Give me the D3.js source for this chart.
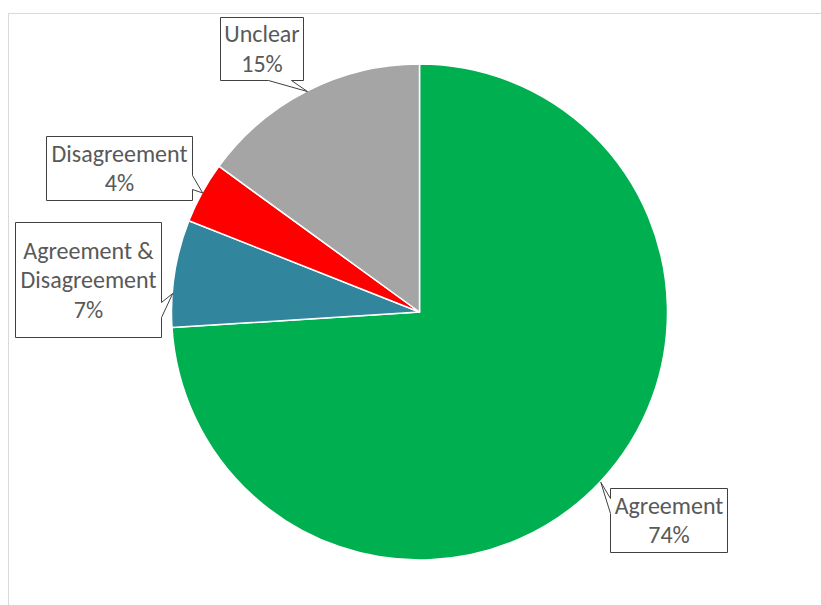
<!DOCTYPE html>
<html>
<head>
<meta charset="utf-8">
<script src="https://cdn.jsdelivr.net/npm/d3@7"></script>
<style>
  body { margin: 0; background: #fff; }
  svg { display: block; }
</style>
</head>
<body>
<div class="vis"></div>
<script>
// data, clockwise from 12 o'clock
var categories = ["Agreement", "Agreement & Disagreement", "Disagreement", "Unclear"];
var values     = [74, 7, 4, 15];
var colors     = ["#00B050", "#31859C", "#FF0000", "#A5A5A5"];
var labelLines = [["Agreement", "74%"], ["Agreement &", "Disagreement", "7%"], ["Disagreement", "4%"], ["Unclear", "15%"]];

// callout boxes (annotation layout): box, side of pointer, pointer base along that side, tip angle shift (deg)
var callouts = [
    { x: 610, y: 488, w: 117, h: 64,  side: "left",   b1: 498, b2: 513, shift: 0 },
    { x: 15,  y: 222, w: 146, h: 115, side: "right",  b1: 302, b2: 317, shift: -4.6 },
    { x: 46,  y: 136, w: 146, h: 64,  side: "right",  b1: 175, b2: 189, shift: 0 },
    { x: 220, y: 17,  w: 83,  h: 63,  side: "bottom", b1: 268, b2: 291, shift: 0 }
];

var width = 821, height = 605;
var cx = 419.5, cy = 312, radius = 248;

var svg = d3.select('div.vis')
            .append('svg')
            .attr('width', width)
            .attr('height', height);

// chart area border
svg.append('rect')
   .attr('x', 8.5).attr('y', 13.5)
   .attr('width', 840).attr('height', 640)
   .attr('fill', 'none')
   .attr('stroke', '#d9d9d9')
   .attr('stroke-width', 1);

var pie = d3.pie().sort(null).value(function(d) { return d; });
var arcs = pie(values);
var arc = d3.arc().innerRadius(0).outerRadius(radius);

var pieG = svg.append('g').attr('transform', 'translate(' + cx + ',' + cy + ')');

pieG.selectAll('path')
    .data(arcs)
    .enter()
    .append('path')
    .attr('d', arc)
    .attr('fill', function(d, i) { return colors[i]; })
    .attr('stroke', '#ffffff')
    .attr('stroke-width', 1.5)
    .attr('stroke-linejoin', 'round');

// callouts
function calloutPath(c, tip) {
    var x0 = c.x, y0 = c.y, x1 = c.x + c.w, y1 = c.y + c.h;
    var pts;
    if (c.side === "bottom") {
        pts = [[x0, y0], [x1, y0], [x1, y1], [c.b2, y1], tip, [c.b1, y1], [x0, y1]];
    } else if (c.side === "right") {
        pts = [[x0, y0], [x1, y0], [x1, c.b1], tip, [x1, c.b2], [x1, y1], [x0, y1]];
    } else {
        pts = [[x0, y0], [x1, y0], [x1, y1], [x0, y1], [x0, c.b2], tip, [x0, c.b1]];
    }
    return 'M' + pts.map(function(p) { return p[0] + ',' + p[1]; }).join('L') + 'Z';
}

var labelG = svg.append('g');

arcs.forEach(function(d, i) {
    var c = callouts[i];
    var a = (d.startAngle + d.endAngle) / 2 + c.shift * Math.PI / 180;
    var tip = [cx + radius * Math.sin(a), cy - radius * Math.cos(a)];

    labelG.append('path')
          .attr('d', calloutPath(c, tip))
          .attr('fill', '#ffffff')
          .attr('stroke', '#404040')
          .attr('stroke-width', 1)
          .attr('transform', 'translate(0.5,0.5)');

    var lines = labelLines[i];
    var lineH = 29.5;
    var firstBase = c.y + c.h / 2 - (lines.length - 1) * lineH / 2 + 8.5;
    var t = labelG.append('text')
                  .attr('text-anchor', 'middle')
                  .style('font-family', 'Carlito, Lato, "Open Sans", sans-serif')
                  .style('font-size', '24px')
                  .style('fill', '#595959');
    lines.forEach(function(line, j) {
        t.append('tspan')
         .attr('x', c.x + c.w / 2 + 0.5)
         .attr('y', firstBase + j * lineH)
         .text(line);
    });
});
</script>
</body>
</html>
